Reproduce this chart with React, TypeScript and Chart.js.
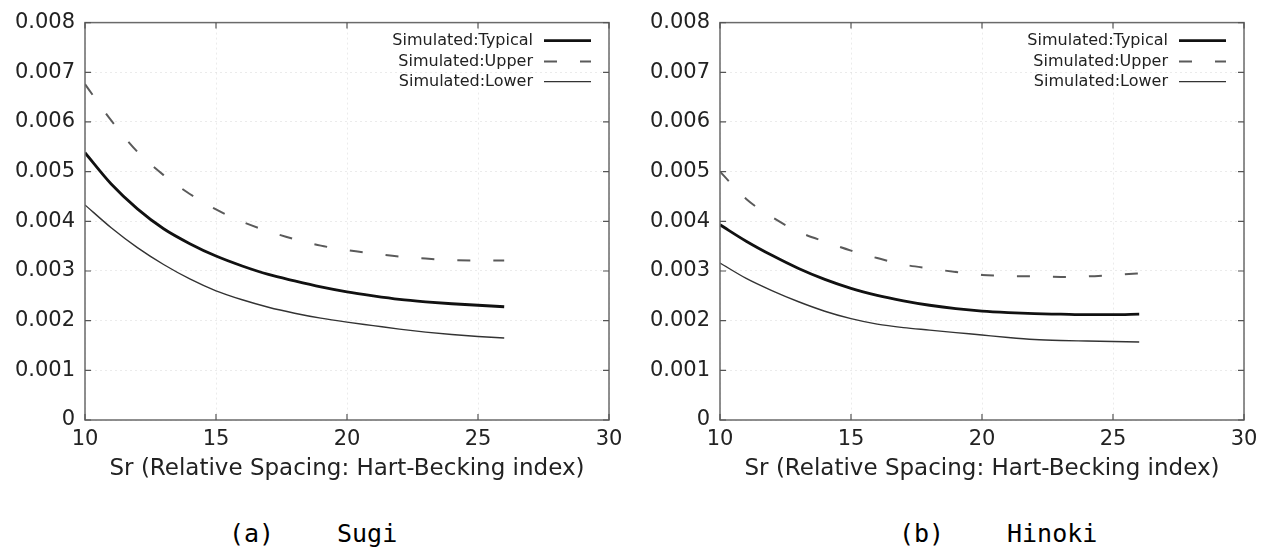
import React, { useEffect, useRef } from 'react';
import { Chart, registerables } from 'chart.js';

Chart.register(...registerables);

// ---- data ----
const srValues = [10, 11, 12, 13, 14, 15, 16, 17, 18, 19, 20, 21, 22, 23, 24, 25, 26];

const sugiTypical = [0.00538, 0.00475, 0.00425, 0.00385, 0.00355, 0.0033, 0.0031, 0.00293, 0.0028, 0.00268, 0.00258, 0.0025, 0.00243, 0.00238, 0.00234, 0.00231, 0.00228];
const sugiUpper = [0.00676, 0.00603, 0.0054, 0.00493, 0.00455, 0.00424, 0.00399, 0.0038, 0.00364, 0.00351, 0.00342, 0.00335, 0.00329, 0.00325, 0.00322, 0.00321, 0.00321];
const sugiLower = [0.00433, 0.00387, 0.00347, 0.00313, 0.00284, 0.0026, 0.00242, 0.00227, 0.00215, 0.00205, 0.00197, 0.0019, 0.00183, 0.00177, 0.00172, 0.00168, 0.00165];

const hinokiTypical = [0.00393, 0.0036, 0.00331, 0.00305, 0.00283, 0.00265, 0.00251, 0.0024, 0.00231, 0.00224, 0.00219, 0.00216, 0.00214, 0.00213, 0.00212, 0.00212, 0.00213];
const hinokiUpper = [0.005, 0.00445, 0.00408, 0.00379, 0.00359, 0.00341, 0.00326, 0.00313, 0.00305, 0.00298, 0.00292, 0.0029, 0.00289, 0.00288, 0.00289, 0.00292, 0.00295];
const hinokiLower = [0.00316, 0.00285, 0.0026, 0.00238, 0.00219, 0.00204, 0.00193, 0.00186, 0.00181, 0.00176, 0.00171, 0.00166, 0.00162, 0.0016, 0.00159, 0.00158, 0.00157];

const seriesNames = ['Simulated:Typical', 'Simulated:Upper', 'Simulated:Lower'];
const xAxisTitle = 'Sr (Relative Spacing: Hart-Becking index)';
const xMin = 10;
const xMax = 30;
const xStep = 5;
const yMin = 0;
const yMax = 0.008;
const yStep = 0.001;

const FONT = "'DejaVu Sans', 'Liberation Sans', Arial, sans-serif";

const framePlugin = {
  id: 'frame',
  afterDatasetsDraw(chart: any) {
    const { ctx, chartArea, scales } = chart;
    const { left, right, top, bottom } = chartArea;
    const x = scales.x;
    const y = scales.y;
    ctx.save();
    ctx.strokeStyle = '#6a6a6a';
    ctx.lineWidth = 1.5;
    ctx.strokeRect(left, top, right - left, bottom - top);
    ctx.lineWidth = 1.2;
    ctx.strokeStyle = '#555';
    const len = 6;
    x.ticks.forEach((t: any) => {
      const px = x.getPixelForValue(t.value);
      ctx.beginPath();
      ctx.moveTo(px, bottom);
      ctx.lineTo(px, bottom - len);
      ctx.moveTo(px, top);
      ctx.lineTo(px, top + len);
      ctx.stroke();
    });
    y.ticks.forEach((t: any) => {
      const py = y.getPixelForValue(t.value);
      ctx.beginPath();
      ctx.moveTo(left, py);
      ctx.lineTo(left + len, py);
      ctx.moveTo(right, py);
      ctx.lineTo(right - len, py);
      ctx.stroke();
    });
    ctx.restore();
  },
};

const legendPlugin = {
  id: 'innerLegend',
  afterDraw(chart: any) {
    const { ctx, chartArea } = chart;
    const lineEnd = chartArea.right - 18;
    const lineStart = lineEnd - 47;
    const textRight = lineStart - 11;
    const rows = [18, 39, 59];
    ctx.save();
    ctx.font = `16px ${FONT}`;
    ctx.textAlign = 'right';
    ctx.textBaseline = 'middle';
    chart.data.datasets.forEach((ds: any, i: number) => {
      const yy = chartArea.top + rows[i];
      ctx.fillStyle = '#222';
      ctx.fillText(ds.label, textRight, yy);
      ctx.beginPath();
      ctx.strokeStyle = ds.borderColor;
      ctx.lineWidth = ds.borderWidth;
      ctx.setLineDash(ds.borderDash || []);
      ctx.moveTo(lineStart, yy);
      ctx.lineTo(lineEnd, yy);
      ctx.stroke();
      ctx.setLineDash([]);
    });
    ctx.restore();
  },
};

type PanelProps = {
  left: number;
  width: number;
  plotLeft: number;
  plotRight: number;
  typical: number[];
  upper: number[];
  lower: number[];
};

function Panel({ left, width, plotLeft, plotRight, typical, upper, lower }: PanelProps) {
  const ref = useRef<HTMLCanvasElement>(null);
  const height = 482;
  useEffect(() => {
    const toPts = (arr: number[]) => srValues.map((x, i) => ({ x, y: arr[i] }));
    const common = { pointRadius: 0, fill: false, tension: 0.4, cubicInterpolationMode: 'monotone' as const };
    const chart = new Chart(ref.current!, {
      type: 'line',
      data: {
        datasets: [
          { ...common, label: seriesNames[0], data: toPts(typical), borderColor: '#111111', borderWidth: 2.8 },
          { ...common, label: seriesNames[1], data: toPts(upper), borderColor: '#5a5a5a', borderWidth: 2, borderDash: [13, 23] },
          { ...common, label: seriesNames[2], data: toPts(lower), borderColor: '#333333', borderWidth: 1.4 },
        ],
      },
      options: {
        responsive: false,
        animation: false,
        devicePixelRatio: 1,
        layout: { padding: { top: 20, right: width - plotRight, left: 0, bottom: 0 } },
        plugins: {
          legend: { display: false },
          tooltip: { enabled: false },
          title: { display: false },
        },
        scales: {
          x: {
            type: 'linear',
            min: xMin,
            max: xMax,
            ticks: { stepSize: xStep, padding: 7, color: '#222', font: { family: FONT, size: 21 } },
            grid: { color: 'rgba(0,0,0,0.08)', drawTicks: false, lineWidth: 1 },
            border: { display: false, dash: [2, 3] },
            title: {
              display: true,
              text: xAxisTitle,
              color: '#222',
              font: { family: FONT, size: 23, lineHeight: 1 },
              padding: { top: 0, bottom: 1.5 },
            },
            afterFit: (s: any) => {
              s.height = height - 420;
            },
          },
          y: {
            type: 'linear',
            min: yMin,
            max: yMax,
            ticks: {
              stepSize: yStep,
              padding: 10,
              color: '#222',
              font: { family: FONT, size: 21 },
              callback: (v: any) => (Math.abs(Number(v)) < 1e-9 ? '0' : Number(v).toFixed(3)),
            },
            grid: { color: 'rgba(0,0,0,0.08)', drawTicks: false, lineWidth: 1 },
            border: { display: false, dash: [2, 3] },
            afterFit: (s: any) => {
              s.width = plotLeft;
            },
          },
        },
      } as any,
      plugins: [framePlugin, legendPlugin],
    });
    return () => chart.destroy();
  }, []);
  return (
    <canvas
      ref={ref}
      width={width}
      height={height}
      style={{ position: 'absolute', left, top: 0, width, height }}
    />
  );
}

const captionStyle: React.CSSProperties = {
  position: 'absolute',
  top: 521,
  fontFamily: "'DejaVu Sans Mono', 'Liberation Mono', monospace",
  fontSize: 25,
  lineHeight: '25px',
  color: '#000',
  whiteSpace: 'pre',
};

export default function App() {
  return (
    <div style={{ position: 'absolute', left: 0, top: 0, width: 1268, height: 551, background: '#fff', overflow: 'hidden' }}>
      <Panel left={0} width={634} plotLeft={85} plotRight={609} typical={sugiTypical} upper={sugiUpper} lower={sugiLower} />
      <Panel left={634} width={634} plotLeft={86} plotRight={610} typical={hinokiTypical} upper={hinokiUpper} lower={hinokiLower} />
      <div style={{ ...captionStyle, left: 229 }}>(a)</div>
      <div style={{ ...captionStyle, left: 337 }}>Sugi</div>
      <div style={{ ...captionStyle, left: 899 }}>(b)</div>
      <div style={{ ...captionStyle, left: 1007 }}>Hinoki</div>
    </div>
  );
}
